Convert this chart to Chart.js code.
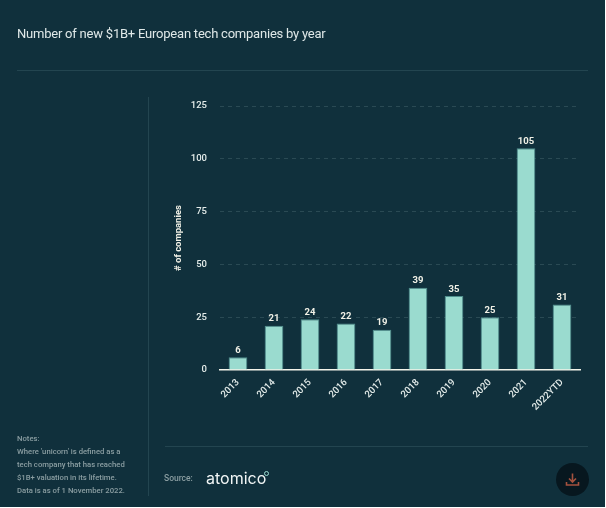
<!DOCTYPE html>
<html>
<head>
<meta charset="utf-8">
<title>Number of new $1B+ European tech companies by year</title>
<script src="https://cdn.jsdelivr.net/npm/chart.js@4"></script>
<style>
    html, body { margin: 0; padding: 0; background: #fff; }
    #panel { position: absolute; left: 0; top: 0; width: 605px; height: 507px; background: #10303c; overflow: hidden; font-family: Roboto, sans-serif; }
    #chart { position: absolute; left: 0; top: 0; }
    .title { position: absolute; left: 17px; top: 26px; font-size: 13px; letter-spacing: -0.22px; line-height: 16px; color: #dfe8e8; white-space: nowrap; }
    .rule { position: absolute; background: #234550; }
    .notes { position: absolute; left: 17px; top: 431.5px; font-size: 7.7px; line-height: 13.1px; color: #8b9ea2; font-weight: 500; white-space: nowrap; }
    .source { position: absolute; left: 164px; top: 472px; font-size: 8.5px; line-height: 13px; color: #8b9ea2; font-weight: 500; }
    .logo { position: absolute; left: 206px; top: 467px; font-family: Inter, sans-serif; font-size: 16px; line-height: 22px; color: #f2f6f6; white-space: nowrap; }
    .logo-dot { position: absolute; left: 264px; top: 471px; width: 3px; height: 3px; border: 1px solid #9adbcf; border-radius: 50%; }
    .download { position: absolute; left: 556px; top: 463px; width: 33px; height: 33px; border-radius: 50%; background: #07171f; }
    .download svg { position: absolute; left: 9px; top: 9px; }
</style>
</head>
<body>
<div id="panel">
    <canvas id="chart" width="605" height="507"></canvas>
    <div class="title">Number of new $1B+ European tech companies by year</div>
    <div class="rule" style="left:17px;top:70px;width:571px;height:1px"></div>
    <div class="rule" style="left:148px;top:97px;width:1px;height:399px"></div>
    <div class="rule" style="left:165px;top:446px;width:423px;height:1px"></div>
    <div class="notes">Notes:<br>Where 'unicorn' is defined as a<br>tech company that has reached<br>$1B+ valuation in its lifetime.<br>Data is as of 1 November 2022.</div>
    <div class="source">Source:</div>
    <div class="logo">atomico</div>
    <div class="logo-dot"></div>
    <div class="download">
        <svg width="15" height="15" viewBox="0 0 15 15" fill="none" stroke="#a5523f" stroke-width="1.6">
            <path d="M7.5 1.5v8M4 6.5l3.5 3.5 3.5-3.5M1.5 10v3h12v-3"/>
        </svg>
    </div>
</div>
<script>
const years = ["2013", "2014", "2015", "2016", "2017", "2018", "2019", "2020", "2021", "2022YTD"];
const companies = [6, 21, 24, 22, 19, 39, 35, 25, 105, 31];
const yTicks = [0, 25, 50, 75, 100, 125];

// chart.js has no data labels without the plugin, so draw them from the bars
const barLabels = {
    id: 'barLabels',
    afterDatasetsDraw(chart) {
        const ctx = chart.ctx;
        ctx.save();
        ctx.font = 'bold 9.5px Roboto';
        ctx.fillStyle = '#f0f0e6';
        ctx.textAlign = 'center';
        ctx.textBaseline = 'bottom';
        chart.getDatasetMeta(0).data.forEach((bar, i) => {
            ctx.fillText(companies[i], bar.x, bar.y - 2);
        });
        ctx.restore();
    }
};

new Chart(document.getElementById('chart').getContext('2d'), {
    type: 'bar',
    data: {
        labels: years,
        datasets: [{
            data: companies,
            backgroundColor: '#9adbcf',
            borderColor: '#4f8f8e',
            borderWidth: { left: 1, right: 1, top: 1, bottom: 0 },
            barPercentage: 0.52,
            categoryPercentage: 1
        }]
    },
    options: {
        responsive: false,
        animation: false,
        layout: { padding: { left: 170, right: 25, top: 106, bottom: 0 } },
        plugins: { legend: { display: false }, tooltip: { enabled: false } },
        scales: {
            x: {
                grid: { display: false, drawTicks: false },
                border: { color: '#f4f4ea', width: 1.5 },
                ticks: {
                    color: '#e4ecea',
                    font: { size: 9.5, family: 'Roboto', weight: '500' },
                    maxRotation: 45,
                    minRotation: 45,
                    padding: 7,
                    autoSkip: false
                },
                afterFit(scale) { scale.height = 137; }
            },
            y: {
                min: 0,
                max: 125,
                afterBuildTicks(scale) { scale.ticks = yTicks.map(v => ({ value: v })); },
                grid: {
                    color: (c) => c.tick.value === 0 ? 'transparent' : '#2a4a54',
                    drawTicks: false
                },
                border: { display: false, dash: [4, 4] },
                ticks: {
                    color: '#e4ecea',
                    font: { size: 9.5, family: 'Roboto', weight: '500' },
                    padding: 13
                },
                title: {
                    display: true,
                    text: '# of companies',
                    color: '#f0f0e6',
                    font: { size: 9.5, family: 'Roboto', weight: 'bold' },
                    padding: { top: 3, bottom: 5 }
                },
                afterFit(scale) { scale.width = 50; }
            }
        }
    },
    plugins: [barLabels]
});
</script>
</body>
</html>
